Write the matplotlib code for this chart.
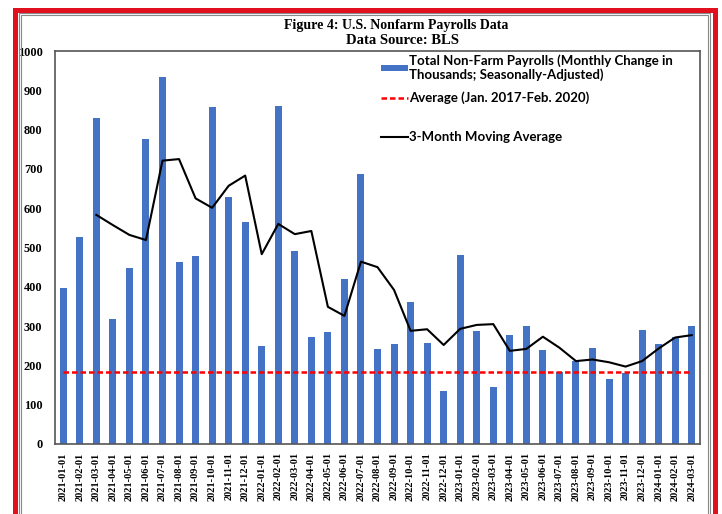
import numpy as np
import matplotlib
matplotlib.use("Agg")
import matplotlib.pyplot as plt
from matplotlib.patches import Rectangle, Patch
from matplotlib.lines import Line2D

# monthly change in nonfarm payrolls (thousands)
months = [
    "2021-01-01", "2021-02-01", "2021-03-01", "2021-04-01", "2021-05-01", "2021-06-01",
    "2021-07-01", "2021-08-01", "2021-09-01", "2021-10-01", "2021-11-01", "2021-12-01",
    "2022-01-01", "2022-02-01", "2022-03-01", "2022-04-01", "2022-05-01", "2022-06-01",
    "2022-07-01", "2022-08-01", "2022-09-01", "2022-10-01", "2022-11-01", "2022-12-01",
    "2023-01-01", "2023-02-01", "2023-03-01", "2023-04-01", "2023-05-01", "2023-06-01",
    "2023-07-01", "2023-08-01", "2023-09-01", "2023-10-01", "2023-11-01", "2023-12-01",
    "2024-01-01", "2024-02-01", "2024-03-01",
]
payrolls = [
    397, 526, 829, 318, 449, 776, 935, 464, 479, 857, 628, 564,
    250, 859, 492, 271, 286, 419, 688, 242, 254, 361, 257, 136,
    480, 287, 146, 277, 301, 240, 182, 211, 245, 165, 181, 289,
    254, 271, 301,
]
# 3-month moving average line, starts at 2021-03
moving_avg = [
    None, None, 583, 557, 532, 519, 721, 725, 625, 601, 657, 683,
    483, 560, 534, 542, 349, 326, 464, 450, 392, 288, 292, 252,
    293, 303, 305, 237, 242, 273, 245, 211, 215, 208, 197, 211,
    243, 271, 277,
]
pre_covid_avg = 183

BAR_COLOR = "#4472C4"
SERIF = "Liberation Serif"

W, H = 722, 514
fig = plt.figure(figsize=(W / 100, H / 100), dpi=100, facecolor="white")
ax = fig.add_axes([55 / W, 1 - 444 / H, 645 / W, 393 / H])

x = np.arange(len(months))
ax.bar(x, payrolls, width=0.42, color=BAR_COLOR, zorder=2)
ax.axhline(pre_covid_avg, xmin=0.012, xmax=0.988, color="#FF0000", lw=1.8,
           ls=(0, (2.2, 1.2)), zorder=3)
ma = np.array([np.nan if v is None else v for v in moving_avg], dtype=float)
ax.plot(x, ma, color="black", lw=1.5, zorder=4)

ax.set_xlim(-0.5, len(months) - 0.5)
ax.set_ylim(0, 1000)
ax.set_yticks(range(0, 1001, 100))
ax.set_xticks(x)
ax.set_xticklabels(months, rotation=90, fontsize=7.5, fontweight="bold", family=SERIF)
for lbl in ax.get_yticklabels():
    lbl.set_fontsize(8.8)
    lbl.set_fontweight("bold")
    lbl.set_family(SERIF)
ax.tick_params(axis="x", length=0, pad=6)
ax.tick_params(axis="y", length=0, pad=9)
for sp in ax.spines.values():
    sp.set_color("#555555")
    sp.set_linewidth(1.2)

# legend (Excel-style, no frame, a thin blank row before the moving average)
handles = [
    Patch(facecolor=BAR_COLOR, edgecolor="none"),
    Line2D([0], [0], color="#FF0000", lw=1.8, ls=(0, (2.2, 1.2))),
    Line2D([0], [0], color="none"),
    Line2D([0], [0], color="black", lw=1.5),
]
labels = [
    "Total Non-Farm Payrolls (Monthly Change in\nThousands; Seasonally-Adjusted)",
    "Average (Jan. 2017-Feb. 2020)",
    " ",
    "3-Month Moving Average",
]
leg = ax.legend(handles, labels, loc="upper left",
                bbox_to_anchor=((381 - 55) / 645, 1 - 3 / 393),
                frameon=False, borderpad=0, borderaxespad=0, handlelength=2.05,
                handleheight=0.35, handletextpad=0.1, labelspacing=0.72,
                prop={"family": "Lato", "weight": "bold", "size": 9.5})
leg.get_texts()[0].set_linespacing(1.2)
leg.get_texts()[2].set_fontsize(1)

fig.text(396 / W, 1 - 25 / H, "Figure 4: U.S. Nonfarm Payrolls Data", ha="center", va="center",
         fontsize=10, fontweight="bold", family=SERIF)
fig.text(403 / W, 1 - 40 / H, "Data Source: BLS", ha="center", va="center",
         fontsize=10.5, fontweight="bold", family=SERIF)

# frame: gray double line inside a thick red border
for (l, r, t), lw in [((18.5, 710, 13), 0.8), ((20.5, 707.5, 15.5), 0.8)]:
    fig.add_artist(Rectangle((l / W, -0.1), (r - l) / W, 1.1 - t / H, transform=fig.transFigure,
                             fill=False, edgecolor="#888888", lw=lw))
fig.add_artist(Rectangle((15 / W, -0.1), (714.5 - 15) / W, 1.1 - 10 / H,
                         transform=fig.transFigure, fill=False, edgecolor="#E0101E", lw=3.6))

fig.savefig("out.png", dpi=100, facecolor="white")
